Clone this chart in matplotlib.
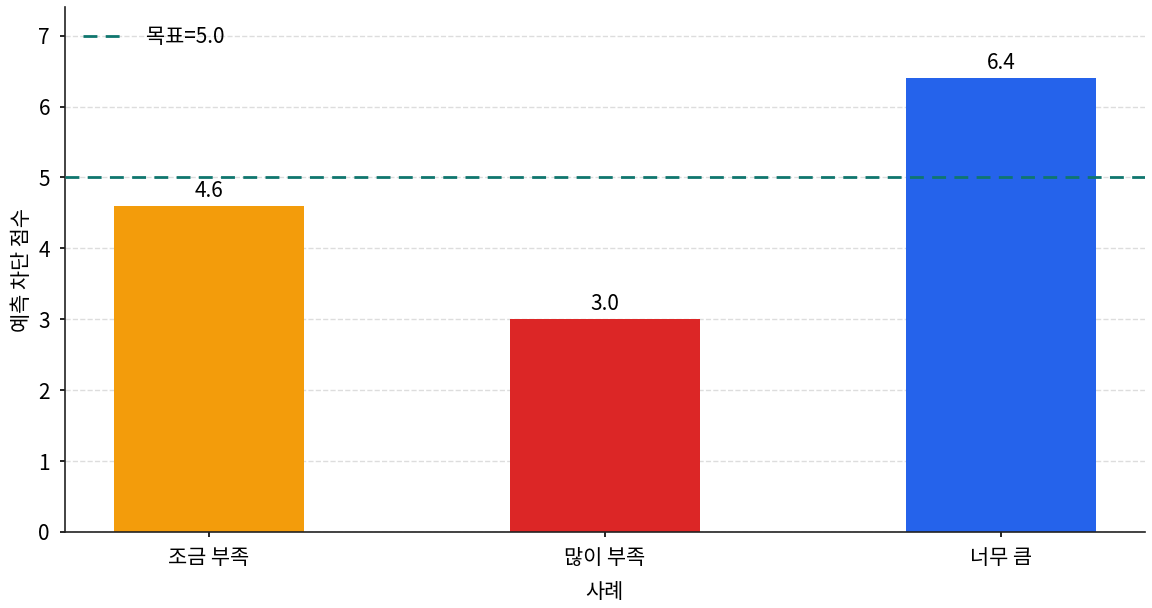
import matplotlib
matplotlib.use("Agg")
import matplotlib.pyplot as plt

plt.rcParams['font.family'] = ['Noto Sans CJK KR', 'DejaVu Sans']

# data
cases = ["조금 부족", "많이 부족", "너무 큼"]
scores = [4.6, 3.0, 6.4]
colors = ["#F39C0B", "#DC2626", "#2563EB"]
target = 5.0

fig, ax = plt.subplots(figsize=(11.52, 6.08), dpi=100)
fig.subplots_adjust(left=0.056, right=0.994, top=0.988, bottom=0.125)

bars = ax.bar(cases, scores, width=0.48, color=colors, zorder=2)
for b, v in zip(bars, scores):
    ax.annotate(f"{v:.1f}", (b.get_x() + b.get_width() / 2, v),
                xytext=(0, 3), textcoords="offset points",
                ha="center", va="bottom", fontsize=15)

ax.axhline(target, color="#0F766E", linestyle="--", linewidth=2,
           dashes=(5, 3), label=f"목표={target}", zorder=3)

ax.set_ylim(0, 7.4)
ax.set_xlabel("사례", fontsize=15, labelpad=9)
ax.set_ylabel("예측 차단 점수", fontsize=15, labelpad=4)
ax.tick_params(labelsize=15, width=1.2, pad=7)
ax.grid(axis="y", linestyle="--", color="#dddddd", linewidth=1, zorder=0)
ax.set_axisbelow(True)
for s in ["top", "right"]:
    ax.spines[s].set_visible(False)
for s in ["left", "bottom"]:
    ax.spines[s].set_color("#222222")
    ax.spines[s].set_linewidth(1.2)

ax.legend(loc="upper left", frameon=False, fontsize=15, handletextpad=1.0)

fig.savefig("out.png", dpi=100)
